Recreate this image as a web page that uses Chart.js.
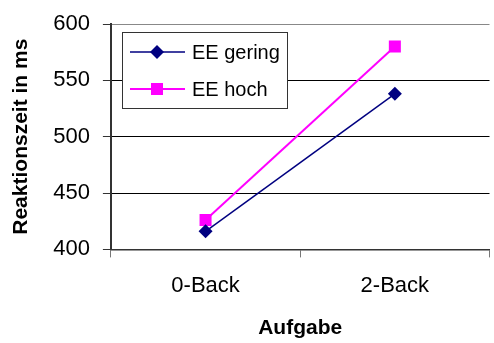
<!DOCTYPE html>
<html>
<head>
<meta charset="utf-8">
<script src="https://cdn.jsdelivr.net/npm/chart.js@4"></script>
<style>
  html, body { margin: 0; background: #fff; overflow: hidden; }
  #box { width: 498px; height: 343px; }
</style>
</head>
<body>
<div id="box"><canvas id="grafico"></canvas></div>
<script>
// Daten aus der Abbildung
const aufgaben = ['0-Back', '2-Back'];
const eeGering = [416, 538];
const eeHoch = [426, 580];
const yTicks = [400, 450, 500, 550, 600];

const schrift = '"Liberation Sans", Arial, sans-serif';

// Legende innerhalb des Diagrammbereichs zeichnen
const legendeImPlot = {
  id: 'legendeImPlot',
  afterDraw(chart) {
    const ctx = chart.ctx;
    const x0 = 122, y0 = 32, w = 165, h = 76;
    ctx.save();
    ctx.fillStyle = '#fff';
    ctx.fillRect(x0, y0, w, h);
    ctx.strokeStyle = '#333';
    ctx.lineWidth = 1;
    ctx.strokeRect(x0 + 0.5, y0 + 0.5, w, h);
    chart.data.datasets.forEach((ds, i) => {
      const y = y0 + 20 + i * 37;
      ctx.strokeStyle = ds.borderColor;
      ctx.lineWidth = ds.borderWidth;
      ctx.beginPath();
      ctx.moveTo(x0 + 8, y);
      ctx.lineTo(x0 + 63, y);
      ctx.stroke();
      ctx.fillStyle = ds.backgroundColor;
      ctx.beginPath();
      if (ds.pointStyle === 'rectRot') {
        const r = 7;
        ctx.moveTo(x0 + 35, y - r);
        ctx.lineTo(x0 + 35 + r, y);
        ctx.lineTo(x0 + 35, y + r);
        ctx.lineTo(x0 + 35 - r, y);
        ctx.closePath();
      } else {
        ctx.rect(x0 + 29, y - 6, 12, 12);
      }
      ctx.fill();
      ctx.fillStyle = '#000';
      ctx.font = '20px ' + schrift;
      ctx.textBaseline = 'middle';
      ctx.fillText(ds.label, x0 + 70, y + 1);
    });
    ctx.restore();
  }
};

new Chart(document.getElementById('grafico'), {
  type: 'line',
  data: {
    labels: aufgaben,
    datasets: [
      {
        label: 'EE gering',
        data: eeGering,
        borderColor: '#000080',
        backgroundColor: '#000080',
        borderWidth: 1.5,
        pointStyle: 'rectRot',
        pointRadius: 7,
        pointBorderWidth: 0
      },
      {
        label: 'EE hoch',
        data: eeHoch,
        borderColor: '#ff00ff',
        backgroundColor: '#ff00ff',
        borderWidth: 2,
        pointStyle: 'rect',
        pointRadius: 8.5,
        pointBorderWidth: 0
      }
    ]
  },
  options: {
    responsive: true,
    maintainAspectRatio: false,
    animation: false,
    layout: { padding: { top: 22, right: 1, left: 9, bottom: 2 } },
    plugins: {
      legend: { display: false },
      tooltip: { enabled: false }
    },
    scales: {
      x: {
        offset: true,
        grid: {
          offset: true,
          drawOnChartArea: false,
          color: '#777',
          tickLength: 8
        },
        border: { color: '#333', width: 1.5 },
        ticks: {
          color: '#000',
          padding: 15,
          font: { family: schrift, size: 22 }
        },
        title: {
          display: true,
          text: 'Aufgabe',
          color: '#000',
          padding: { top: 2, bottom: 0 },
          font: { family: schrift, size: 21, weight: 'bold' }
        }
      },
      y: {
        min: 400,
        max: 600,
        afterBuildTicks: (axis) => { axis.ticks = yTicks.map(v => ({ value: v })); },
        grid: {
          color: (c) => c.tick && c.tick.value === 600 ? '#888' : '#000',
          tickLength: 8,
          tickColor: '#333'
        },
        border: { color: '#333', width: 2 },
        ticks: {
          color: '#000',
          padding: 13,
          font: { family: schrift, size: 22, lineHeight: 1 }
        },
        title: {
          display: true,
          text: 'Reaktionszeit in ms',
          color: '#000',
          padding: { top: 0, bottom: 6 },
          font: { family: schrift, size: 21, weight: 'bold' }
        }
      }
    }
  },
  plugins: [legendeImPlot]
});
</script>
</body>
</html>
